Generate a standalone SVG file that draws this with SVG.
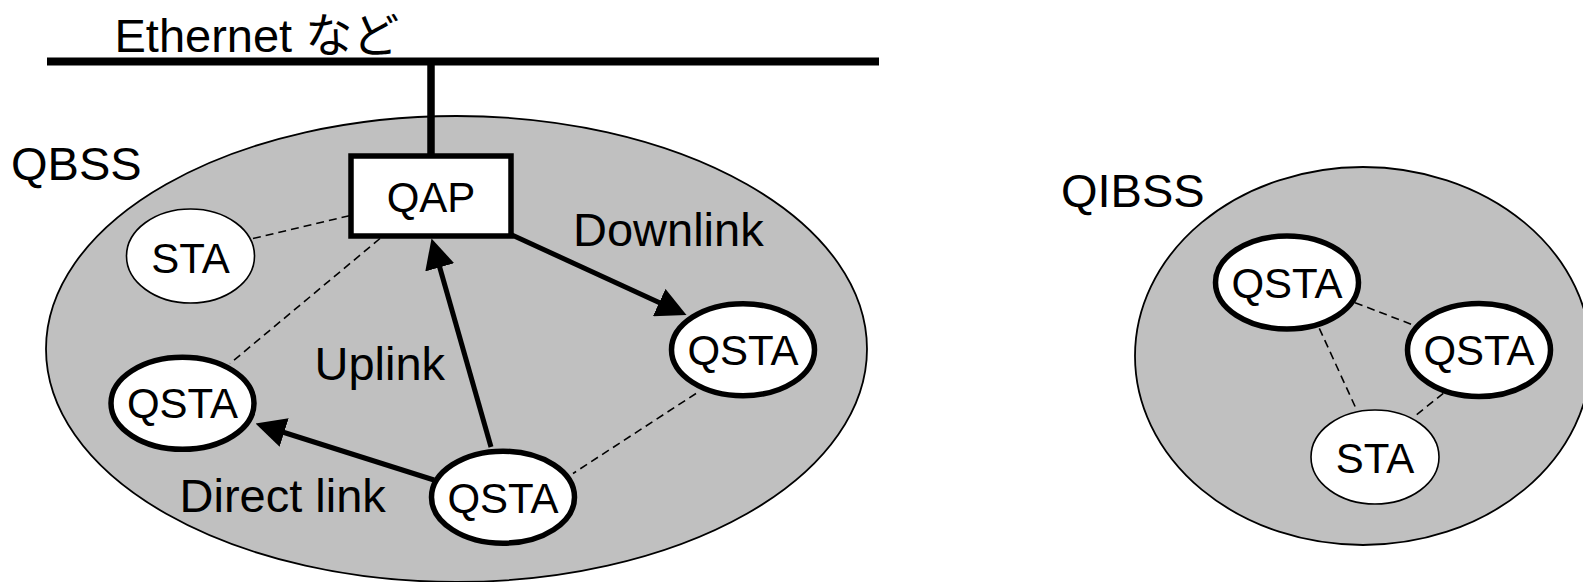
<svg xmlns="http://www.w3.org/2000/svg" width="1583" height="582" viewBox="0 0 1583 582">
<style>
.area{fill:#c0c0c0;stroke:#000;stroke-width:1.8}
.lbl{font-family:"Liberation Sans",Arial,"Noto Sans CJK JP",sans-serif;font-size:47px;fill:#000}
.nt{font-family:"Liberation Sans",Arial,sans-serif;font-size:42px;fill:#000;text-anchor:middle}
.q{fill:#fff;stroke:#000;stroke-width:5.5}
.s{fill:#fff;stroke:#000;stroke-width:1.6}
.dash{stroke:#000;stroke-width:1.6;stroke-dasharray:8 5;fill:none}
.arr{stroke:#000;stroke-width:5;fill:none;marker-end:url(#ah)}
</style>
<defs>
<marker id="ah" markerUnits="userSpaceOnUse" markerWidth="30" markerHeight="30" refX="10" refY="15" orient="auto">
<path d="M0,0 L30,15 L0,30 z" fill="#000"/>
</marker>
</defs>
<g id="qbss-area">
<ellipse class="area" cx="456.5" cy="349" rx="410.5" ry="233"/>
<text class="lbl" x="11" y="180">QBSS</text>
</g>
<g id="qibss-area">
<ellipse class="area" cx="1363" cy="356" rx="228" ry="189"/>
<text class="lbl" x="1061" y="207">QIBSS</text>
</g>
<g id="ethernet">
<line x1="47" y1="61.5" x2="879" y2="61.5" stroke="#000" stroke-width="8"/>
<text class="lbl" x="114.5" y="52">Ethernet など</text>
</g>
<g id="connectors">
<line x1="431" y1="61.5" x2="431" y2="156" stroke="#000" stroke-width="7.5"/>
<line class="dash" x1="253" y1="238.5" x2="350" y2="215.5"/>
<line class="dash" x1="380" y1="238.5" x2="230" y2="363.5"/>
<line class="dash" x1="696" y1="393.5" x2="573" y2="473.5"/>
<line class="dash" x1="1355" y1="302.7" x2="1413.3" y2="325"/>
<line class="dash" x1="1319.3" y1="328.3" x2="1356.7" y2="410"/>
<line class="dash" x1="1443.3" y1="393.3" x2="1413.3" y2="417.3"/>
<line class="arr" x1="491" y1="447" x2="437" y2="257.7"/>
<line class="arr" x1="512" y1="235" x2="668.3" y2="306.7"/>
<line class="arr" x1="434" y1="480" x2="274.6" y2="429.5"/>
<text class="lbl" x="573" y="246">Downlink</text>
<text class="lbl" x="314.5" y="380">Uplink</text>
<text class="lbl" x="179.5" y="512">Direct link</text>
</g>
<g id="qap">
<rect x="351" y="156" width="160" height="80" fill="#fff" stroke="#000" stroke-width="5.5"/>
<text class="nt" x="431" y="212">QAP</text>
</g>
<g id="sta-left">
<ellipse class="s" cx="190.5" cy="256" rx="64" ry="47"/>
<text class="nt" x="190.5" y="272.7">STA</text>
</g>
<g id="qsta-left">
<ellipse class="q" cx="182.5" cy="403.3" rx="71.5" ry="46"/>
<text class="nt" x="182.5" y="418.3">QSTA</text>
</g>
<g id="qsta-right">
<ellipse class="q" cx="743" cy="349.7" rx="71.5" ry="46"/>
<text class="nt" x="743" y="365">QSTA</text>
</g>
<g id="qsta-bottom">
<ellipse class="q" cx="503" cy="497.2" rx="71.5" ry="46"/>
<text class="nt" x="503" y="512.7">QSTA</text>
</g>
<g id="qibss-qsta-top">
<ellipse class="q" cx="1287" cy="282.5" rx="71.5" ry="46.5"/>
<text class="nt" x="1287" y="298.3">QSTA</text>
</g>
<g id="qibss-qsta-right">
<ellipse class="q" cx="1479" cy="350" rx="71.5" ry="46.5"/>
<text class="nt" x="1479" y="365">QSTA</text>
</g>
<g id="qibss-sta">
<ellipse class="s" cx="1375" cy="457" rx="64" ry="47"/>
<text class="nt" x="1375" y="473.3">STA</text>
</g>
</svg>
